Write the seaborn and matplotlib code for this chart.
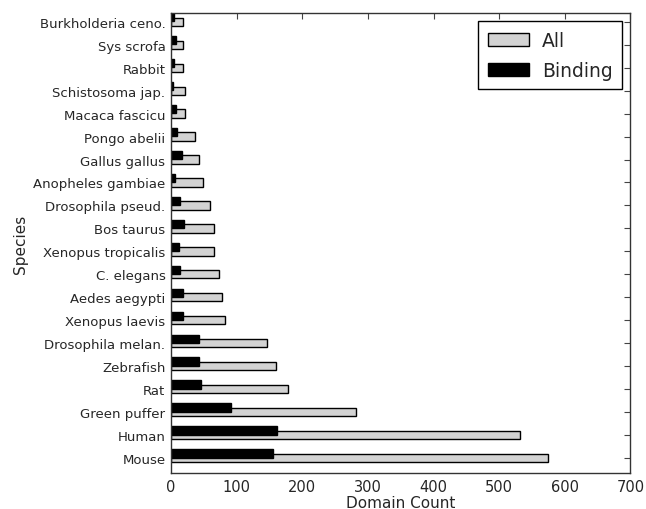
import numpy as np
import pandas as pd
import matplotlib
matplotlib.use("Agg")
import matplotlib.pyplot as plt
import seaborn as sns
from matplotlib.patches import Patch

species = ["Mouse", "Human", "Green puffer", "Rat", "Zebrafish", "Drosophila melan.",
           "Xenopus laevis", "Aedes aegypti", "C. elegans", "Xenopus tropicalis",
           "Bos taurus", "Drosophila pseud.", "Anopheles gambiae", "Gallus gallus",
           "Pongo abelii", "Macaca fascicu", "Schistosoma jap.", "Rabbit",
           "Sys scrofa", "Burkholderia ceno."]
all_counts = [575, 531, 282, 178, 160, 146, 82, 77, 73, 66,
              65, 59, 48, 42, 37, 22, 22, 19, 19, 19]
binding_counts = [156, 162, 91, 45, 42, 42, 19, 18, 14, 12,
                  20, 13, 6, 17, 9, 7, 3, 5, 8, 5]

sns.set_style("white")
plt.rcParams['font.family'] = ['DejaVu Sans']

fig = plt.figure(figsize=(6.46, 5.10), dpi=100)
ax = fig.add_axes([0.2647, 0.0706, 0.7113, 0.9019])

ind = np.arange(len(species))
df_all = pd.DataFrame({"pos": ind.astype(float), "val": all_counts})
df_bind = pd.DataFrame({"pos": ind + 0.2, "val": binding_counts})

sns.barplot(data=df_all, x="val", y="pos", orient="h", native_scale=True,
            width=0.36, color="#d3d3d3", saturation=1, edgecolor="black",
            linewidth=1, ax=ax, errorbar=None)
sns.barplot(data=df_bind, x="val", y="pos", orient="h", native_scale=True,
            width=0.36, color="black", saturation=1, edgecolor="black",
            linewidth=1, ax=ax, errorbar=None)

ax.set_ylim(-0.65, 19.38)
ax.set_xlim(0, 700)
ax.set_yticks(ind)
ax.set_yticklabels(species, fontsize=9.5)
ax.set_xticks(np.arange(0, 701, 100))
ax.set_xticklabels([str(v) for v in range(0, 701, 100)], fontsize=10.5)
ax.tick_params(direction="in", top=True, right=True, length=4, width=0.8,
               color="#444444", pad=4)
for s in ax.spines.values():
    s.set_visible(True)
    s.set_color("#333333")
    s.set_linewidth(1.0)
ax.set_xlabel("Domain Count", fontsize=11, labelpad=1)
ax.set_ylabel("Species", fontsize=11, labelpad=4)

handles = [Patch(facecolor="#d3d3d3", edgecolor="black", label="All"),
           Patch(facecolor="black", edgecolor="black", label="Binding")]
leg = ax.legend(handles=handles, loc="upper right", fontsize=13.5, fancybox=False,
                frameon=True, edgecolor="black", framealpha=1,
                handlelength=2.2, handleheight=0.7, handletextpad=0.7,
                labelspacing=0.6, borderpad=0.5, borderaxespad=0.45)
leg.get_frame().set_linewidth(1.0)

fig.savefig("out.png", dpi=100)
